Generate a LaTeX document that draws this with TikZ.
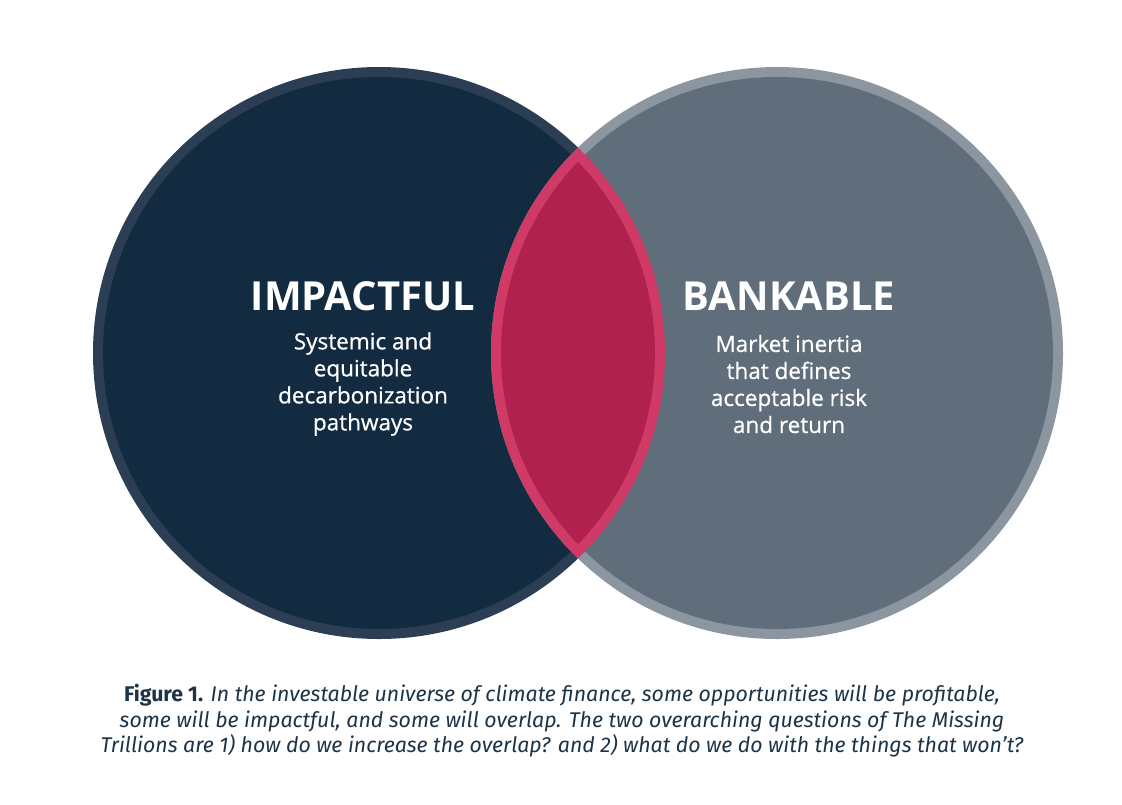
\documentclass[tikz,border=0pt]{standalone}
\usepackage{fontspec}
\setmainfont{Fira Sans}
\newfontfamily\circfont{Open Sans}
\newfontfamily\circbodyfont[FakeBold=0.7]{Open Sans}
\definecolor{navy}{HTML}{132B40}
\definecolor{navyring}{HTML}{2B3E54}
\definecolor{slate}{HTML}{606D7B}
\definecolor{slatering}{HTML}{8B96A1}
\definecolor{lens}{HTML}{B12150}
\definecolor{lensring}{HTML}{CF3A66}
\definecolor{captext}{HTML}{1D3448}
\tikzset{
  titletext/.style={text=white,font=\circfont\fontsize{40}{44}\selectfont\bfseries,inner sep=0pt},
  bodytext/.style={text=white,font=\circbodyfont\fontsize{22.5}{27}\selectfont,align=center,inner sep=0pt},
  captiontext/.style={text=captext,font=\fontsize{21.3}{25.5}\selectfont,align=center,inner sep=0pt}
}
\begin{document}
\begin{tikzpicture}[x=1pt,y=-1pt]
\fill[white] (0,0) rectangle (1122,804);
\useasboundingbox (0,0) rectangle (1122,804);
\coordinate (L) at (379,353);
\coordinate (R) at (777,353);
% left circle
\fill[navyring] (L) circle (286pt);
\fill[navy] (L) circle (276pt);
% right circle
\fill[slatering] (R) circle (286pt);
\fill[slate] (R) circle (276pt);
% overlap lens
\begin{scope}
  \clip (L) circle (286pt);
  \fill[lensring] (R) circle (286pt);
  \begin{scope}
    \clip (L) circle (276pt);
    \fill[lens] (R) circle (276pt);
  \end{scope}
\end{scope}
% texts
\node[titletext] (imp) at (363,296) {IMPACTFUL};
\node[bodytext] (impb) at (363,384) {Systemic and\\equitable\\decarbonization\\pathways};
\node[titletext] (bank) at (789,296) {BANKABLE};
\node[bodytext] (bankb) at (789,384) {Market inertia\\that defines\\acceptable risk\\and return};
\node[captiontext] (cap) at (562,721) {{\bfseries Figure 1.} \itshape In the investable universe of climate finance, some opportunities will be profitable,\\\itshape some will be impactful, and some will overlap. The two overarching questions of The Missing\\\itshape Trillions are 1) how do we increase the overlap? and 2) what do we do with the things that won’t?};
\end{tikzpicture}
\end{document}
